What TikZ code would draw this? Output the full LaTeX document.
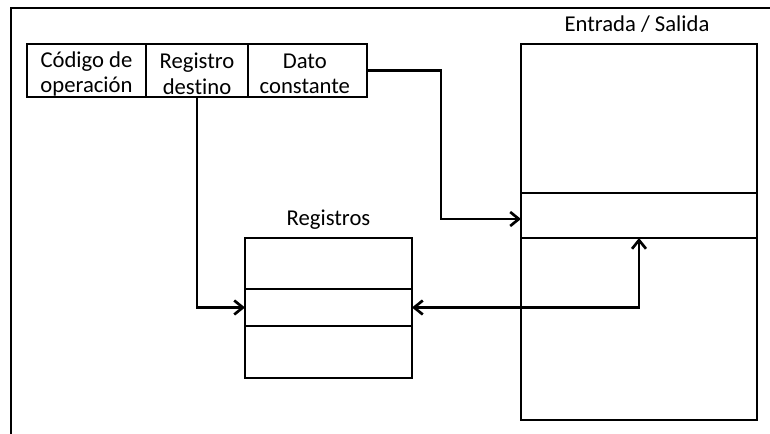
\documentclass[tikz,border=0pt]{standalone}
\usepackage{fontspec}
\setmainfont{Carlito}[Ligatures={NoCommon}]
\usetikzlibrary{arrows.meta}
\begin{document}
\begin{tikzpicture}[x=0.75pt,y=-0.75pt,
  line width=2pt,
  cell/.style={draw,rectangle,inner sep=0pt,outer sep=0pt,minimum height=39.75pt},
  fieldtext/.style={align=center,inner sep=0pt,yshift=-2.4pt,font=\fontsize{17}{19}\selectfont},
  box/.style={draw,rectangle,inner sep=0pt,outer sep=0pt},
  caption/.style={anchor=base,inner sep=0pt,font=\fontsize{17}{19}\selectfont},
  tip/.tip={Straight Barb[length=6.5pt,width=10.5pt,line width=2pt]},
  link/.style={-tip},
  dlink/.style={tip-tip}]
\useasboundingbox (0,0) rectangle (770,434);

% frame lines
\draw[line width=1.6pt] (10,8) -- (770,8);
\draw[line width=1.3pt] (11,8) -- (11,434);

% instruction format fields
\node[cell,minimum width=89.25pt,label={[fieldtext]center:{Código de\\operación}}] (op) at (86.5,70.5) {};
\node[cell,minimum width=76.5pt,label={[fieldtext]center:{Registro\\destino}}] (rd) at (197,70.5) {};
\node[cell,minimum width=89.25pt,label={[fieldtext,xshift=-2pt]center:{Dato\\constante}}] (dc) at (307.5,70.5) {};

% input / output block
\node[box,minimum width=177pt,minimum height=282pt] (es) at (639,232) {};
\node[box,minimum width=177pt,minimum height=33.75pt] (esslot) at (639,215.5) {};
\node[caption] (eslabel) at (637,32) {Entrada / Salida};

% register file
\node[box,minimum width=125.25pt,minimum height=105pt] (reg) at (328.5,308) {};
\node[box,minimum width=125.25pt,minimum height=27.75pt] (regslot) at (328.5,307.5) {};
\node[caption] (reglabel) at (328.5,226) {Registros};

% connectors
\coordinate (k1) at (441,219);
\draw[link] (dc.east) -| (k1) -- (k1 -| esslot.west);
\draw[link] (rd.south) |- (regslot.west);
\draw[dlink] (regslot.east) -| (esslot.south);
\end{tikzpicture}
\end{document}
